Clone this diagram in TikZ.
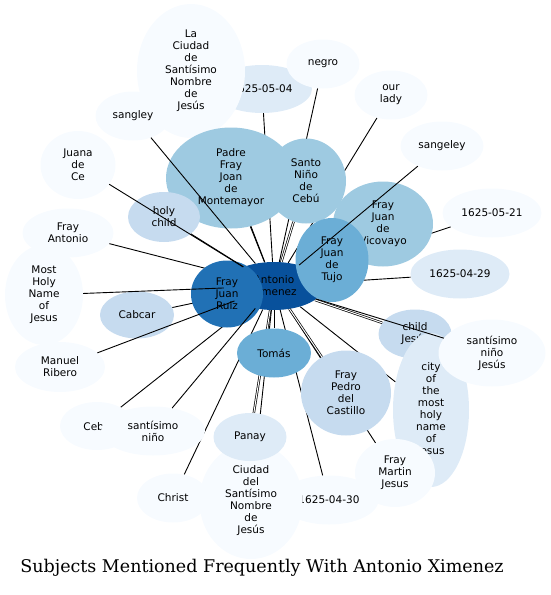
\documentclass[tikz,border=0pt]{standalone}
\usepackage{fontspec}
\setmainfont{DejaVu Sans}
\newfontfamily\titlefont{DejaVu Serif}
\usepackage{xcolor}
\definecolor{bluea}{HTML}{F7FBFF}
\definecolor{blueb}{HTML}{DEEBF7}
\definecolor{bluec}{HTML}{C6DBEF}
\definecolor{blued}{HTML}{9ECAE1}
\definecolor{bluee}{HTML}{6BAED6}
\definecolor{bluef}{HTML}{2171B5}
\definecolor{blueg}{HTML}{08519C}
\usepackage{tikz}
\usetikzlibrary{shapes.geometric}
\pgfdeclarelayer{bg}
\pgfdeclarelayer{fg}
\pgfsetlayers{bg,main,fg}
\newcommand{\bubfont}{\fontsize{10.5}{12}\selectfont}

\begin{document}
\begin{tikzpicture}[x=1pt,y=-1pt]
\tikzset{
 bub/.style={ellipse,inner sep=0pt,align=center,font=\bubfont,text=black},
 link/.style={line width=0.9pt},
 dlink/.style={double,double distance=1pt,line width=0.7pt}
}
\useasboundingbox (0,0) rectangle (551,595);
\node[bub,fill=blueb,minimum width=100,minimum height=48] (d0504) at (262,89) {1625-05-04};
\node[bub,fill=bluea,minimum width=108,minimum height=134] (laciudad) at (191,71) {La\\Ciudad\\de\\Santísimo\\Nombre\\de\\Jesús};
\node[bub,fill=bluea,minimum width=75,minimum height=49] (sangley) at (133,116) {sangley};
\node[bub,fill=bluea,minimum width=73,minimum height=49] (negro) at (323,64) {negro};
\node[bub,fill=bluea,minimum width=73,minimum height=49] (ourlady) at (391,95) {our\\lady};
\node[bub,fill=bluea,minimum width=83,minimum height=49] (sangeley) at (442,146) {sangeley};
\node[bub,fill=bluea,minimum width=99,minimum height=49] (d0521) at (492,213) {1625-05-21};
\node[bub,fill=blued,minimum width=130,minimum height=101] (montemayor) at (231,178) {Padre\\Fray\\Joan\\de\\Montemayor};
\node[bub,fill=blued,minimum width=80,minimum height=85] (santonino) at (306,181) {Santo\\Niño\\de\\Cebú};
\node[bub,fill=blued,minimum width=100,minimum height=85] (vicovayo) at (383,224) {Fray\\Juan\\de\\Vicovayo};
\node[bub,fill=bluea,minimum width=75,minimum height=68] (juana) at (78,165) {Juana\\de\\Ce};
\node[bub,fill=bluec,minimum width=72,minimum height=50] (holychild) at (164,217) {holy\\child};
\node[bub,fill=bluea,minimum width=91,minimum height=49] (frayantonio) at (68,233) {Fray\\Antonio};
\node[bub,fill=bluea,minimum width=78,minimum height=100] (mostholy) at (44,295) {Most\\Holy\\Name\\of\\Jesus};
\node[bub,fill=bluec,minimum width=74,minimum height=47] (cabcar) at (137,315) {Cabcar};
\node[bub,fill=bluea,minimum width=90,minimum height=50] (ribero) at (60,367) {Manuel\\Ribero};
\node[bub,fill=bluea,minimum width=74,minimum height=48] (cebu) at (97,426) {Cebú};
\node[bub,fill=bluea,minimum width=104,minimum height=49] (nino) at (153,431) {santísimo\\niño};
\node[bub,fill=bluea,minimum width=72,minimum height=49] (christ) at (173,498) {Christ};
\node[bub,fill=bluea,minimum width=99,minimum height=49] (d0430) at (329,500) {1625-04-30};
\node[bub,fill=bluea,minimum width=103,minimum height=116] (ciudaddel) at (251,501) {Ciudad\\del\\Santísimo\\Nombre\\de\\Jesús};
\node[bub,fill=blueb,minimum width=73,minimum height=48] (panay) at (250,437) {Panay};
\node[bub,fill=bluec,minimum width=73,minimum height=49] (childjesus) at (415,334) {child\\Jesús};
\node[bub,fill=blueb,minimum width=76,minimum height=154] (city) at (431,410) {city\\of\\the\\most\\holy\\name\\of\\Jesus};
\node[bub,fill=bluea,minimum width=107,minimum height=67] (ninojesus) at (492,353) {santísimo\\niño\\Jesús};
\node[bub,fill=bluea,minimum width=80,minimum height=68] (martin) at (395,473) {Fray\\Martin\\Jesus};
\node[bub,fill=bluec,minimum width=90,minimum height=85] (castillo) at (346,393) {Fray\\Pedro\\del\\Castillo};
\node[bub,fill=bluee,minimum width=74,minimum height=49] (tomas) at (274,353) {Tomás};
\node[bub,fill=blueb,minimum width=99,minimum height=49] (d0429) at (460,274) {1625-04-29};
\node[bub,fill=blueg,minimum width=100,minimum height=48] (ximenez) at (274,286) {Antonio\\Ximenez};
\node[bub,fill=bluee,minimum width=73,minimum height=84] (tujo) at (332,260) {Fray\\Juan\\de\\Tujo};
\node[bub,fill=bluef,minimum width=72,minimum height=67] (ruiz) at (227,294) {Fray\\Juan\\Ruiz};
\node[font=\titlefont\fontsize{17.5}{20}\selectfont,anchor=base] (title) at (262,572) {Subjects Mentioned Frequently With Antonio Ximenez};
\begin{pgfonlayer}{bg}
\draw[link] (ximenez)--(laciudad);
\draw[link] (ximenez)--(d0504);
\draw[link] (ximenez)--(negro);
\draw[link] (ximenez)--(ourlady);
\draw[link] (ximenez)--(d0521);
\draw[link] (ximenez)--(vicovayo);
\draw[dlink] (ximenez)--(santonino);
\draw[link] (ximenez)--(montemayor);
\draw[link] (ximenez)--(frayantonio);
\draw[link] (ximenez)--(cabcar);
\draw[link] (ximenez)--(cebu);
\draw[link] (ximenez)--(christ);
\draw[dlink] (ximenez)--(panay);
\draw[link] (ximenez)--(ciudaddel);
\draw[link] (ximenez)--(d0430);
\draw[link] (ximenez)--(martin);
\draw[link] (ximenez)--(city);
\draw[link] (ximenez)--(d0429);
\draw[link] (ximenez)--(tujo);
\draw[link] (ximenez)--(ruiz);
\draw[link] (ximenez)--(tomas);
\end{pgfonlayer}
\begin{pgfonlayer}{fg}
\draw[link] (ximenez)--(sangley);
\draw[link] (ximenez)--(juana);
\draw[link] (ximenez)--(holychild);
\draw[link] (ximenez)--(mostholy);
\draw[link] (ximenez)--(ribero);
\draw[link] (ximenez)--(nino);
\draw[dlink] (ximenez)--(castillo);
\draw[dlink] (ximenez)--(childjesus);
\draw[link] (ximenez)--(ninojesus);
\draw[link] (ximenez)--(sangeley);
\end{pgfonlayer}
\end{tikzpicture}
\end{document}
